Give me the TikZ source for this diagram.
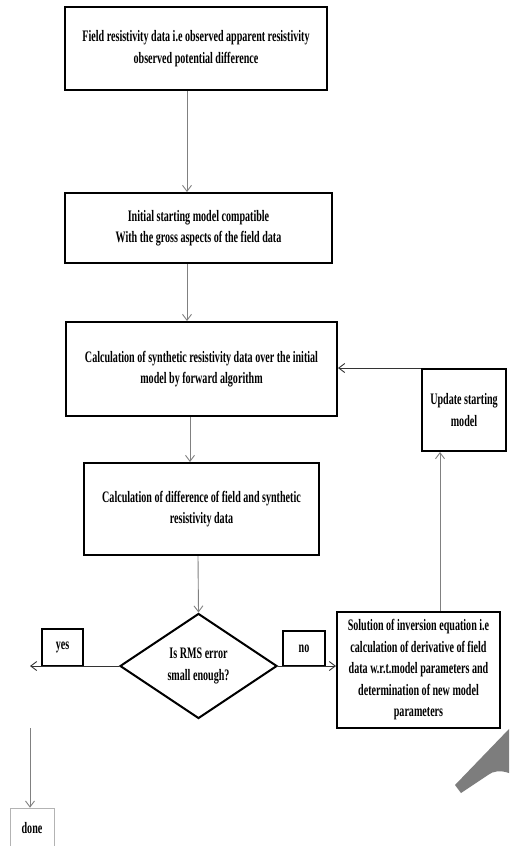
\documentclass[tikz,border=0pt]{standalone}
\usepackage{fontspec}
\newfontfamily\chartfont{Liberation Serif}[FakeStretch=0.63]
\usepackage{tikz}
\usetikzlibrary{arrows.meta, shapes.geometric, positioning, calc}
\definecolor{linegray}{RGB}{128,128,128}
\definecolor{markgray}{RGB}{125,125,125}

\begin{document}
\begin{tikzpicture}[x=1pt, y=-1pt,
    proc/.style={draw, line width=2pt, fill=white, align=center,
                 inner sep=0pt, font=\chartfont\bfseries\fontsize{16}{21.5}\selectfont},
    deci/.style={proc, diamond, aspect=1.5},
    tag/.style={proc, line width=1.8pt},
    flow/.style={-{Straight Barb[length=6pt, width=9pt]}, linegray, line width=0.9pt}
  ]
    \useasboundingbox (0,0) rectangle (509,846);
    \clip (0,0) rectangle (509,846);

    % main column
    \node[proc, minimum width=262pt, minimum height=83pt] (field) at (196,48.5)
      {Field resistivity data i.e observed apparent resistivity\\observed potential difference};
    \node[proc, minimum width=267pt, minimum height=70pt] (initial) at (198.5,228)
      {Initial starting model compatible\\With the gross aspects of the field data};
    \node[proc, minimum width=271pt, minimum height=94pt] (synth) at (201.5,369)
      {Calculation of synthetic resistivity data over the initial\\model by forward algorithm};
    \node[proc, minimum width=235pt, minimum height=92pt] (diff) at (201.5,509)
      {Calculation of difference of field and synthetic\\resistivity data};
    \node[deci, minimum width=157pt, minimum height=105pt] (rms) at (198.5,666)
      {Is RMS error\\small enough?};

    % right loop
    \node[proc, minimum width=163pt, minimum height=116pt] (solve) at (418.5,670)
      {Solution of inversion equation i.e\\calculation of derivative of field\\data w.r.t.model parameters and\\determination of new model\\parameters};
    \node[proc, minimum width=84pt, minimum height=82pt] (update) at (464,410)
      {Update starting\\model};

    % answers
    \node[tag, minimum width=41pt, minimum height=37pt] (yes) at (62.5,647.5) {yes};
    \node[tag, minimum width=42pt, minimum height=35pt] (no) at (304,648.5) {no};
    \node[proc, draw=linegray!60, line width=0.6pt, minimum width=44pt,
          minimum height=40pt] (done) at (32,828) {done};

    \coordinate (colA) at (187,0);
    \coordinate (colB) at (190,0);
    \coordinate (colC) at (198,0);
    \coordinate (colD) at (440,0);
    \coordinate (yesend) at (30,660);
    \coordinate (donetop) at (30,728);

    \draw[flow] (field.south -| colA) -- (initial.north -| colA);
    \draw[flow] (initial.south -| colA) -- (synth.north -| colA);
    \draw[flow] (synth.south -| colB) -- (diff.north -| colB);
    \draw[flow] (diff.south -| colC) -- (rms.north);
    \draw[flow, draw=black!80] (rms.west) -- (rms.west -| yesend);
    \draw[flow] (donetop) -- (done.north -| donetop);
    \draw[flow, draw=black!80] (rms.east) -- (rms.east -| solve.west);
    \draw[flow] (solve.north -| colD) -- (update.south -| colD);
    \draw[flow, draw=black!80] (update.north west) -- (synth.east |- update.north west);

    % watermark corner
    \fill[markgray] (455,785) -- (509,729) -- (509,773)
      .. controls (500,770) and (493,771) .. (488,775) -- (461,793) -- cycle;
\end{tikzpicture}
\end{document}
